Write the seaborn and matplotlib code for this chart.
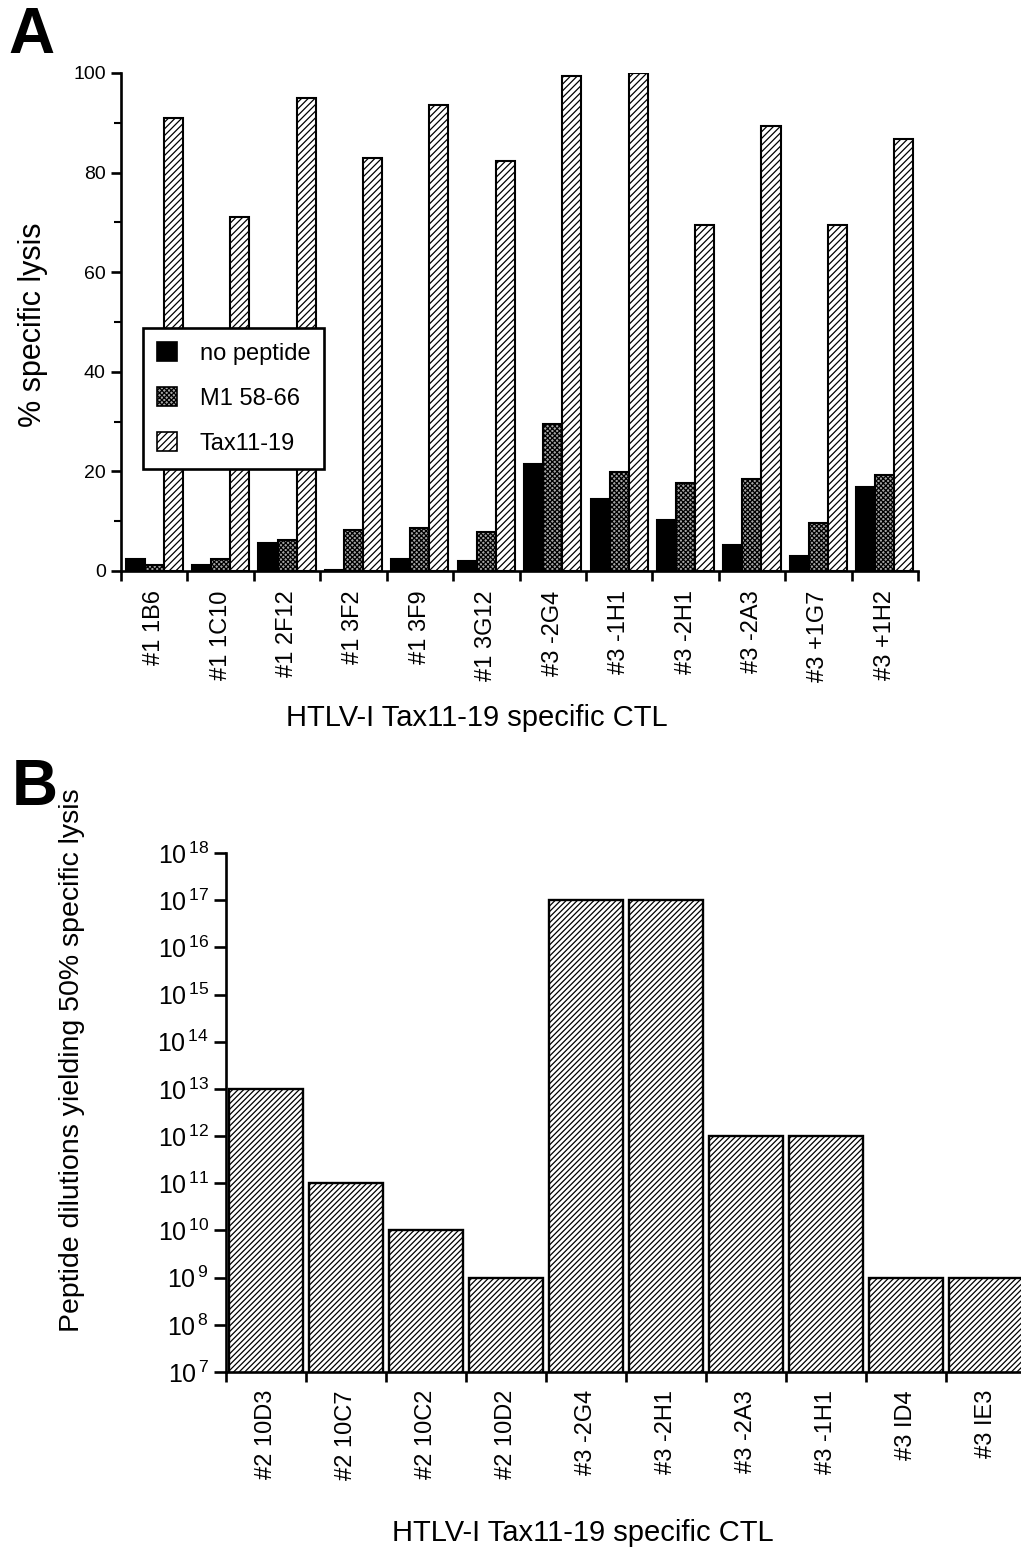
import matplotlib
matplotlib.use("Agg")
import matplotlib.pyplot as plt
import seaborn as sns
import pandas as pd
import numpy as np
from matplotlib.patches import Patch
from matplotlib.ticker import FixedLocator, MultipleLocator, NullLocator, FixedFormatter

# ---------------- data ----------------
clones_a = ["#1 1B6", "#1 1C10", "#1 2F12", "#1 3F2", "#1 3F9", "#1 3G12",
            "#3 -2G4", "#3 -1H1", "#3 -2H1", "#3 -2A3", "#3 +1G7", "#3 +1H2"]
series_a = ["no peptide", "M1 58-66", "Tax11-19"]
no_peptide = [2.4, 1.2, 5.6, 0.3, 2.4, 2.0, 21.5, 14.5, 10.2, 5.2, 3.0, 16.8]
m1_58_66 = [1.2, 2.5, 6.2, 8.2, 8.6, 7.8, 29.5, 19.8, 17.7, 18.5, 9.7, 19.3]
tax11_19 = [91.0, 71.0, 95.0, 83.0, 93.5, 82.3, 99.3, 100.0, 69.5, 89.3, 69.5, 86.7]

clones_b = ["#2 10D3", "#2 10C7", "#2 10C2", "#2 10D2", "#3 -2G4",
            "#3 -2H1", "#3 -2A3", "#3 -1H1", "#3 ID4", "#3 IE3"]
dilution_50 = [1e13, 1e11, 1e10, 1e9, 1e17, 1e17, 1e12, 1e12, 1e9, 1e9]

xlabel_text = "HTLV-I Tax11-19 specific CTL"

# ---------------- style ----------------
sns.set_theme(style="ticks")
plt.rcParams["font.family"] = ["Liberation Sans", "DejaVu Sans"]
for key in ["text.color", "axes.labelcolor", "xtick.color", "ytick.color",
            "axes.edgecolor", "hatch.color"]:
    plt.rcParams[key] = "black"
plt.rcParams["hatch.linewidth"] = 0.9
plt.rcParams["axes.linewidth"] = 1.9
plt.rcParams["mathtext.fontset"] = "custom"
plt.rcParams["mathtext.rm"] = "Liberation Sans"

W, H = 1021, 1553
fig = plt.figure(figsize=(W / 100, H / 100), dpi=100)
fig.patch.set_facecolor("white")


def fx(px):
    return px / W


def fy(py):
    return 1 - py / H


# ---------------- panel A ----------------
axA = fig.add_axes([fx(121), fy(571), fx(918 - 121), (571 - 73) / H])
df_a = pd.DataFrame({
    "clone": np.repeat(clones_a, 3),
    "peptide": series_a * len(clones_a),
    "lysis": np.ravel(np.column_stack([no_peptide, m1_58_66, tax11_19])),
})
colors_a = {"no peptide": "black", "M1 58-66": "#a6a6a6", "Tax11-19": "white"}
hatches_a = {"no peptide": None, "M1 58-66": "xxxxxxx", "Tax11-19": "/////"}
sns.barplot(data=df_a, x="clone", y="lysis", hue="peptide", order=clones_a,
            hue_order=series_a, palette=colors_a, width=0.86, gap=0,
            edgecolor="black", linewidth=1.5, saturation=1, errorbar=None,
            legend=False, ax=axA)
for cont, lev in zip(axA.containers, series_a):
    for p in cont:
        if hatches_a[lev]:
            p.set_hatch(hatches_a[lev])
axA.set_xlim(-0.5, len(clones_a) - 0.5)
axA.set_ylim(0, 100)
axA.set_xlabel("")
axA.set_ylabel("")
sns.despine(ax=axA)
axA.yaxis.set_major_locator(FixedLocator([0, 20, 40, 60, 80, 100]))
axA.yaxis.set_minor_locator(MultipleLocator(10))
axA.tick_params(axis="y", which="major", length=7, width=1.9, labelsize=14, pad=4, direction="out")
axA.tick_params(axis="y", which="minor", length=5, width=1.5, direction="out")
axA.xaxis.set_minor_locator(FixedLocator(np.arange(-0.5, len(clones_a), 1.0)))
axA.tick_params(axis="x", which="major", length=0, pad=14, labelsize=17)
axA.tick_params(axis="x", which="minor", length=7, width=1.9, direction="out")
axA.set_xticks(range(len(clones_a)))
axA.set_xticklabels(clones_a, rotation=90, va="top", ha="center")

leg_handles = [Patch(facecolor=colors_a[s], edgecolor="black", linewidth=1.2,
                     hatch=hatches_a[s]) for s in series_a]
leg = axA.legend(leg_handles, series_a, loc="upper left",
                 bbox_to_anchor=(fx(143), fy(328)), bbox_transform=fig.transFigure,
                 fontsize=17, frameon=True, fancybox=False, framealpha=1,
                 edgecolor="black", handlelength=0.85, handleheight=0.85,
                 handletextpad=0.95, labelspacing=0.95, borderpad=0.6,
                 borderaxespad=0)
leg.get_frame().set_linewidth(1.9)
for t in leg.get_texts():
    t.set_color("black")

fig.text(fx(33), fy(325), "% specific lysis", rotation=90, ha="center",
         va="center", fontsize=22)
fig.text(fx(477), fy(718), xlabel_text, ha="center", va="center", fontsize=21)
fig.text(fx(8), fy(36), "A", ha="left", va="center", fontsize=46, fontweight="bold")

# ---------------- panel B ----------------
axB = fig.add_axes([fx(226), fy(1372), 800 / W, (1372 - 853) / H])
df_b = pd.DataFrame({"clone": clones_b, "dilution": dilution_50})
sns.barplot(data=df_b, x="clone", y="dilution", order=clones_b, color="white",
            width=0.925, edgecolor="black", linewidth=1.7, saturation=1,
            errorbar=None, ax=axB)
for p in axB.patches:
    p.set_hatch("//////")
axB.set_yscale("log")
axB.set_ylim(1e7, 1e18)
axB.set_xlim(-0.5, len(clones_b) - 0.5)
axB.set_xlabel("")
axB.set_ylabel("")
sns.despine(ax=axB)
dec = [10.0 ** k for k in range(7, 19)]
axB.yaxis.set_major_locator(FixedLocator(dec))
axB.yaxis.set_major_formatter(FixedFormatter(
    [r"$\mathregular{10^{\,%d}}$" % k for k in range(7, 19)]))
axB.yaxis.set_minor_locator(NullLocator())
axB.tick_params(axis="y", which="major", length=9, width=1.9, labelsize=18, pad=3, direction="out")
axB.xaxis.set_minor_locator(FixedLocator(np.arange(-0.5, len(clones_b), 1.0)))
axB.tick_params(axis="x", which="major", length=0, pad=13, labelsize=17)
axB.tick_params(axis="x", which="minor", length=7, width=1.9, direction="out")
axB.set_xticks(range(len(clones_b)))
axB.set_xticklabels(clones_b, rotation=90, va="top", ha="center")

fig.text(fx(72), fy(1060), "Peptide dilutions yielding 50% specific lysis",
         rotation=90, ha="center", va="center", fontsize=20.5)
fig.text(fx(583), fy(1533), xlabel_text, ha="center", va="center", fontsize=21)
fig.text(fx(12), fy(788), "B", ha="left", va="center", fontsize=46, fontweight="bold")

fig.savefig("out.png", dpi=100, facecolor="white")
